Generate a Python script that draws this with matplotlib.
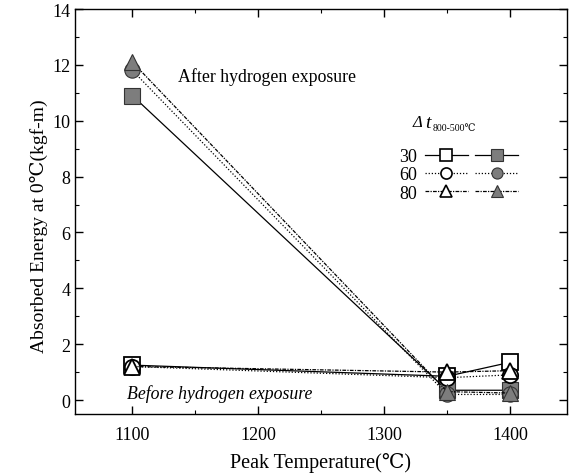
import matplotlib
matplotlib.use("Agg")
import matplotlib.pyplot as plt
from matplotlib.lines import Line2D

plt.rcParams['font.family'] = ['Liberation Serif', 'DejaVu Serif', 'DejaVu Sans']

temps = [1100, 1350, 1400]
groups = ["30", "60", "80"]
before = {
    "30": [1.25, 0.85, 1.35],
    "60": [1.2, 0.8, 0.9],
    "80": [1.2, 1.0, 1.05],
}
after = {
    "30": [10.9, 0.35, 0.35],
    "60": [11.8, 0.2, 0.2],
    "80": [12.1, 0.3, 0.25],
}
markers = {"30": "s", "60": "o", "80": "^"}
styles = {"30": "-", "60": (0, (1, 1.5)), "80": (0, (3, 1, 1, 1))}
fill_gray = "#7d7d7d"

fig = plt.figure(figsize=(5.69, 4.77), dpi=100)
ax = fig.add_axes([0.132, 0.130, 0.864, 0.849])

open_handles, filled_handles = [], []
for g in groups:
    ax.plot(temps, before[g], linestyle=styles[g], color="black", lw=0.9,
            marker=markers[g], ms=11, mfc="white", mec="black", mew=1.3, zorder=3)
    ax.plot(temps, after[g], linestyle=styles[g], color="black", lw=0.9,
            marker=markers[g], ms=11, mfc=fill_gray, mec="#333333", mew=0.8, zorder=3)
    open_handles.append(Line2D([], [], linestyle=styles[g], color="black", lw=0.9,
                               marker=markers[g], ms=8, mfc="white", mec="black", mew=1.2))
    filled_handles.append(Line2D([], [], linestyle=styles[g], color="black", lw=0.9,
                                 marker=markers[g], ms=8, mfc=fill_gray, mec="#333333", mew=0.8))

ax.set_xlim(1054.5, 1445)
ax.set_ylim(-0.5, 14)
ax.set_xticks([1100, 1200, 1300, 1400])
ax.set_xticks([1150, 1250, 1350], minor=True)
ax.set_yticks(range(0, 15, 2))
ax.set_yticks(range(1, 14, 2), minor=True)
ax.tick_params(which="both", direction="in", top=True, right=True, labelsize=13)
ax.tick_params(axis="x", which="major", pad=9)
ax.tick_params(which="major", length=6, width=1)
ax.tick_params(which="minor", length=3, width=0.8)
for s in ax.spines.values():
    s.set_linewidth(1.0)

ax.set_xlabel("Peak Temperature(℃)", fontsize=14.5, labelpad=6)
ax.set_ylabel("Absorbed Energy at 0℃(kgf-m)", fontsize=14)
ax.yaxis.set_label_coords(-0.055, 0.467)

ax.text(1136, 11.6, "After hydrogen exposure", fontsize=12.8, va="center", ha="left")
ax.text(1096, 0.24, "Before hydrogen exposure", fontsize=12.8, va="center", ha="left",
        style="italic")

# legend header: Δt with subscript
ax.text(0.687, 0.721, "Δ", transform=ax.transAxes, fontsize=12, style="italic",
        va="center", ha="left")
ax.text(0.712, 0.721, "t", transform=ax.transAxes, fontsize=14, style="italic",
        va="center", ha="left")
ax.text(0.727, 0.708, "800-500℃", transform=ax.transAxes, fontsize=7,
        va="center", ha="left")

handles = open_handles + filled_handles
labels = groups + ["", "", ""]
ax.legend(handles, labels, ncol=2, markerfirst=False, frameon=False,
          loc="upper left", bbox_to_anchor=(0.645, 0.675),
          fontsize=13, handlelength=2.4, columnspacing=0.0,
          handletextpad=0.4, labelspacing=0.08, borderaxespad=0)

fig.savefig("out.png", dpi=100)
